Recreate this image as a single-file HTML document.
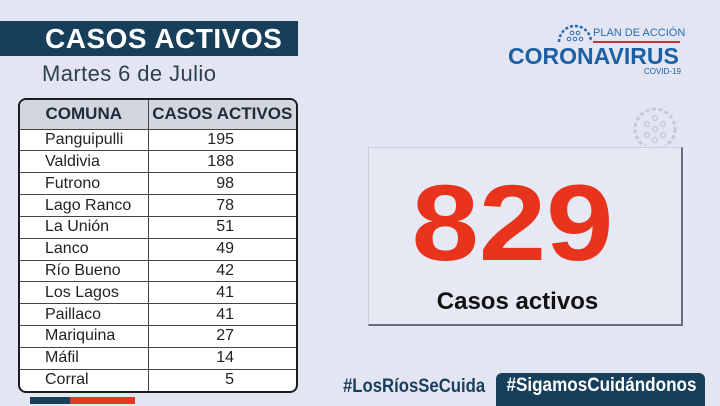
<!DOCTYPE html>
<html><head><meta charset="utf-8"><style>
*{margin:0;padding:0;box-sizing:border-box}
body{width:720px;height:404px;overflow:hidden;background:#e3e6f2;position:relative;font-family:"Liberation Sans",sans-serif}
.a{position:absolute}
table{border-collapse:collapse}
#t{left:18px;top:98px;width:280px;height:295px;border:2px solid #1c1c1c;border-radius:8px;overflow:hidden;background:#fff}
#t table{width:100%;height:100%}
#t td{border-bottom:1px solid #444;font-size:16px;color:#222;height:21.7px;line-height:20px}
#t td.c1{border-right:1px solid #444;padding-left:25px;width:128px}
#t td.c2{text-align:right;padding-right:62px}
#t tr:last-child td{border-bottom:none}
#t th{background:#d3d6de;height:29px;font-size:17px;font-weight:bold;color:#1e2b38;border-bottom:1px solid #444;text-align:center}
</style></head><body>
<div class="a" style="left:0;top:21px;width:298px;height:35px;background:#173f5a"></div>
<div class="a" style="left:45px;top:20px;color:#fff;font-weight:bold;font-size:28px;letter-spacing:0.5px;line-height:37px;white-space:nowrap">CASOS ACTIVOS</div>
<div class="a" style="left:42px;top:60px;color:#2e3f4f;font-size:22px;letter-spacing:0.4px;line-height:28px">Martes 6 de Julio</div>

<div id="t" class="a"><table>
<tr><th style="border-right:1px solid #444;width:128px">COMUNA</th><th>CASOS ACTIVOS</th></tr>
<tr><td class="c1">Panguipulli</td><td class="c2">195</td></tr>
<tr><td class="c1">Valdivia</td><td class="c2">188</td></tr>
<tr><td class="c1">Futrono</td><td class="c2">98</td></tr>
<tr><td class="c1">Lago Ranco</td><td class="c2">78</td></tr>
<tr><td class="c1">La Unión</td><td class="c2">51</td></tr>
<tr><td class="c1">Lanco</td><td class="c2">49</td></tr>
<tr><td class="c1">Río Bueno</td><td class="c2">42</td></tr>
<tr><td class="c1">Los Lagos</td><td class="c2">41</td></tr>
<tr><td class="c1">Paillaco</td><td class="c2">41</td></tr>
<tr><td class="c1">Mariquina</td><td class="c2">27</td></tr>
<tr><td class="c1">Máfil</td><td class="c2">14</td></tr>
<tr><td class="c1">Corral</td><td class="c2">5</td></tr>
</table></div>

<div class="a" style="left:30px;top:397px;width:40px;height:7px;background:#173f5a"></div>
<div class="a" style="left:70px;top:397px;width:65px;height:7px;background:#e23a1f"></div>

<svg class="a" style="left:555px;top:20px" width="40" height="24" viewBox="0 0 40 24">
<path d="M4 22 A16 16 0 0 1 36 22" fill="none" stroke="#2a6db0" stroke-width="2.5" stroke-dasharray="3 2"/>
<circle cx="14" cy="19" r="1.8" fill="none" stroke="#2a6db0"/><circle cx="20" cy="19" r="1.8" fill="none" stroke="#2a6db0"/><circle cx="26" cy="19" r="1.8" fill="none" stroke="#2a6db0"/>
<circle cx="17" cy="13" r="1.8" fill="none" stroke="#2a6db0"/><circle cx="23" cy="13" r="1.8" fill="none" stroke="#2a6db0"/>
</svg>
<div class="a" style="left:593px;top:27px;color:#2a6db0;font-size:11px;line-height:12px;white-space:nowrap">PLAN DE ACCIÓN</div>
<div class="a" style="left:593px;top:41px;width:87px;height:2px;background:#c8323a"></div>
<div class="a" style="left:508px;top:43px;color:#1d5fa3;font-weight:bold;font-size:23px;line-height:26px;white-space:nowrap">CORONAVIRUS</div>
<div class="a" style="left:644px;top:67px;color:#1d5fa3;font-size:8px;line-height:9px">COVID-19</div>
<svg class="a" style="left:630px;top:104px" width="50" height="42" viewBox="0 0 50 42">
<circle cx="25" cy="25" r="20" fill="none" stroke="#c5cad8" stroke-width="3" stroke-dasharray="4 2.5"/>
<g fill="none" stroke="#c5cad8" stroke-width="1.5"><circle cx="25" cy="25" r="2.5"/><circle cx="17" cy="20" r="2.5"/><circle cx="33" cy="20" r="2.5"/><circle cx="17" cy="31" r="2.5"/><circle cx="33" cy="31" r="2.5"/><circle cx="25" cy="14" r="2.5"/><circle cx="25" cy="36" r="2.5"/></g>
</svg>

<div class="a" style="left:368px;top:147px;width:315px;height:179px;background:#e6e9f3;border:1px solid #c9cdd8;border-right:2px solid #6a6e78;border-bottom:2px solid #6a6e78"></div>
<div class="a" style="left:355px;top:163px;width:315px;text-align:center;color:#e8341c;font-weight:bold;font-size:108px;line-height:120px;transform:scaleX(1.12);transform-origin:center">829</div>
<div class="a" style="left:360px;top:287px;width:315px;text-align:center;color:#111;font-weight:bold;font-size:24px;line-height:30px">Casos activos</div>

<div class="a" style="left:343px;top:375px;color:#173f5a;font-weight:bold;font-size:19px;line-height:24px;white-space:nowrap;transform:scaleX(0.88);transform-origin:left center">#LosRíosSeCuida</div>
<div class="a" style="left:496px;top:373px;width:209px;height:33px;background:#173f5a;border-radius:6px 6px 0 0"></div>
<div class="a" style="left:496px;top:373px;width:209px;text-align:center;color:#fff;font-weight:bold;font-size:19px;line-height:26px;white-space:nowrap;transform:scaleX(0.9);transform-origin:center">#SigamosCuidándonos</div>
</body></html>
